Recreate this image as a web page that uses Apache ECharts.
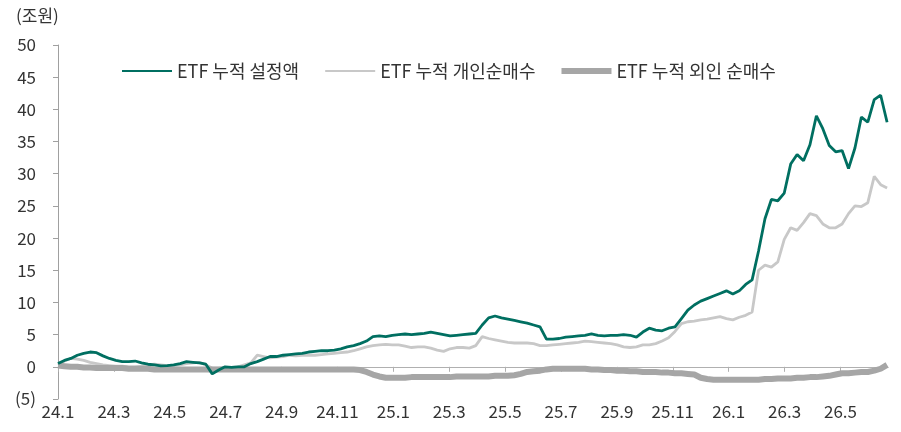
<!DOCTYPE html>
<html>
<head>
<meta charset="utf-8">
<script src="https://cdn.jsdelivr.net/npm/echarts@6/dist/echarts.min.js"></script>
<style>
  html, body { margin: 0; padding: 0; background: #fff; }
  #chart { width: 901px; height: 432px; }
</style>
</head>
<body>
<div id="chart"></div>
<script>
// 주간 데이터, 2024.1 첫 주부터 (단위: 조원)
var startYear = 24;
var seriesNames = ['ETF 누적 설정액', 'ETF 누적 개인순매수', 'ETF 누적 외인 순매수'];

var setAmount = [
  0.5, 1.0, 1.3, 1.8, 2.1, 2.3, 2.2, 1.7, 1.3, 1.0,
  0.8, 0.8, 0.9, 0.6, 0.4, 0.3, 0.15, 0.2, 0.3, 0.5,
  0.8, 0.7, 0.6, 0.4, -1.1, -0.5, 0.0, -0.1, 0.0, 0.0,
  0.5, 0.8, 1.2, 1.6, 1.6, 1.8, 1.9, 2.0, 2.1, 2.3,
  2.4, 2.5, 2.5, 2.6, 2.8, 3.1, 3.3, 3.6, 4.0, 4.7,
  4.8, 4.7, 4.9, 5.0, 5.1, 5.0, 5.1, 5.2, 5.4, 5.2,
  5.0, 4.8, 4.9, 5.0, 5.1, 5.2, 6.5, 7.6, 7.9, 7.6,
  7.4, 7.2, 7.0, 6.8, 6.5, 6.2, 4.3, 4.3, 4.4, 4.6,
  4.7, 4.8, 4.9, 5.1, 4.9, 4.8, 4.9, 4.9, 5.0, 4.9,
  4.6, 5.4, 6.0, 5.7, 5.6, 6.0, 6.2, 7.5, 8.8, 9.6,
  10.2, 10.6, 11.0, 11.4, 11.8, 11.3, 11.8, 12.8, 13.5, 18.0,
  23.0, 26.0, 25.8, 27.0, 31.5, 33.0, 32.0, 34.5, 39.0, 37.0,
  34.4, 33.4, 33.6, 30.8, 34.0, 38.8, 38.0, 41.5, 42.2, 38.0
];

var retailNet = [
  0.3, 0.9, 1.3, 1.2, 1.0, 0.7, 0.5, 0.3, 0.2, 0.1,
  0.1, 0.0, 0.0, 0.1, 0.3, 0.4, 0.3, 0.2, 0.2, 0.3,
  0.5, 0.6, 0.7, 0.3, -0.2, -0.2, -0.1, -0.1, 0.0, 0.3,
  0.6, 1.8, 1.6, 1.4, 1.5, 1.6, 1.8, 1.7, 1.8, 1.8,
  1.8, 1.9, 2.0, 2.1, 2.2, 2.3, 2.5, 2.8, 3.1, 3.3,
  3.4, 3.5, 3.4, 3.4, 3.2, 3.0, 3.1, 3.1, 2.9, 2.6,
  2.4, 2.8, 3.0, 3.0, 2.9, 3.3, 4.7, 4.4, 4.2, 4.0,
  3.8, 3.7, 3.7, 3.7, 3.6, 3.3, 3.3, 3.4, 3.5, 3.6,
  3.7, 3.8, 4.0, 3.9, 3.8, 3.7, 3.6, 3.4, 3.1, 3.0,
  3.1, 3.4, 3.4, 3.6, 4.0, 4.5, 5.5, 6.7, 7.0, 7.1,
  7.3, 7.4, 7.6, 7.8, 7.5, 7.3, 7.7, 8.0, 8.5, 15.0,
  15.8, 15.5, 16.3, 19.8, 21.6, 21.2, 22.4, 23.8, 23.5, 22.2,
  21.6, 21.6, 22.2, 23.8, 25.0, 24.9, 25.5, 29.6, 28.3, 27.8
];

var foreignNet = [
  0.2, 0.1, 0.0, 0.0, -0.1, -0.1, -0.2, -0.2, -0.2, -0.2,
  -0.2, -0.3, -0.3, -0.3, -0.3, -0.4, -0.4, -0.4, -0.4, -0.4,
  -0.4, -0.4, -0.4, -0.4, -0.4, -0.4, -0.4, -0.4, -0.4, -0.4,
  -0.4, -0.4, -0.4, -0.4, -0.4, -0.4, -0.4, -0.4, -0.4, -0.4,
  -0.4, -0.4, -0.4, -0.4, -0.4, -0.4, -0.4, -0.5, -0.8, -1.2,
  -1.5, -1.7, -1.7, -1.7, -1.7, -1.6, -1.6, -1.6, -1.6, -1.6,
  -1.6, -1.6, -1.5, -1.5, -1.5, -1.5, -1.5, -1.5, -1.4, -1.4,
  -1.4, -1.3, -1.1, -0.8, -0.7, -0.6, -0.4, -0.3, -0.3, -0.3,
  -0.3, -0.3, -0.3, -0.4, -0.4, -0.5, -0.5, -0.6, -0.6, -0.7,
  -0.7, -0.8, -0.8, -0.8, -0.9, -0.9, -1.0, -1.0, -1.1, -1.2,
  -1.7, -1.9, -2.0, -2.0, -2.0, -2.0, -2.0, -2.0, -2.0, -2.0,
  -1.9, -1.9, -1.8, -1.8, -1.8, -1.7, -1.7, -1.6, -1.6, -1.5,
  -1.4, -1.2, -1.0, -1.0, -0.9, -0.8, -0.8, -0.6, -0.3, 0.3
];

// x축 눈금: 2개월 간격 (0 = 24.1)
var tickMonths = [0, 2, 4, 6, 8, 10, 12, 14, 16, 18, 20, 22, 24, 26, 28];

function toPairs(arr) {
  // 주차 -> 월 위치
  return arr.map(function (v, i) { return [i * 7 / 30.4375, v]; });
}

function monthLabel(v) {
  var y = startYear + Math.floor(v / 12);
  var m = Math.round(v) % 12 + 1;
  return y + '.' + m;
}

var font = '"Noto Sans CJK KR", "Noto Sans", sans-serif';
var chart = echarts.init(document.getElementById('chart'));

chart.setOption({
  animation: false,
  textStyle: { fontFamily: font },
  title: {
    text: '(조원)',
    left: 11,
    top: 2,
    textStyle: { fontSize: 17, fontWeight: 'normal', color: '#333', fontFamily: font }
  },
  legend: {
    left: 117,
    top: 57,
    itemWidth: 50,
    itemHeight: 10,
    itemGap: 26,
    textStyle: { fontSize: 18, color: '#333', fontFamily: font },
    data: [
      { name: seriesNames[0], icon: 'path://M0,4 L50,4 L50,6 L0,6 Z' },
      { name: seriesNames[1], icon: 'path://M0,4 L50,4 L50,6 L0,6 Z' },
      { name: seriesNames[2], icon: 'path://M0,2 L50,2 L50,8 L0,8 Z' }
    ]
  },
  grid: { left: 58, right: 13, top: 45, bottom: 33, outerBoundsMode: 'none' },
  xAxis: [
    {
      // 0선 위의 축선과 눈금
      type: 'value',
      min: 0,
      max: 29.7,
      interval: 2,
      splitLine: { show: false },
      axisLine: { onZero: true, lineStyle: { color: '#b0b0b0', width: 1 } },
      axisTick: { length: 5, lineStyle: { color: '#b0b0b0' }, customValues: tickMonths },
      axisLabel: { show: false }
    },
    {
      // 아래쪽 날짜 라벨
      type: 'value',
      position: 'bottom',
      min: 0,
      max: 29.7,
      interval: 2,
      splitLine: { show: false },
      axisLine: { show: false, onZero: false },
      axisTick: { show: false },
      axisLabel: {
        customValues: tickMonths,
        margin: 4,
        fontSize: 17,
        color: '#333',
        fontFamily: font,
        formatter: monthLabel
      }
    }
  ],
  yAxis: {
    type: 'value',
    min: -5,
    max: 50,
    interval: 5,
    splitLine: { show: false },
    axisLine: { show: true, lineStyle: { color: '#a0a0a0' } },
    axisTick: { show: true, length: 5, lineStyle: { color: '#a0a0a0' } },
    axisLabel: {
      margin: 22,
      fontSize: 17,
      color: '#333',
      fontFamily: font,
      formatter: function (v) { return v < 0 ? '(' + (-v) + ')' : v; }
    }
  },
  series: [
    {
      name: seriesNames[0],
      type: 'line',
      data: toPairs(setAmount),
      symbol: 'none',
      z: 4,
      itemStyle: { color: '#006f61' },
      lineStyle: { color: '#006f61', width: 2.8 }
    },
    {
      name: seriesNames[1],
      type: 'line',
      data: toPairs(retailNet),
      symbol: 'none',
      z: 2,
      itemStyle: { color: '#c8c8c8' },
      lineStyle: { color: '#c8c8c8', width: 2.8 }
    },
    {
      name: seriesNames[2],
      type: 'line',
      data: toPairs(foreignNet),
      symbol: 'none',
      z: 3,
      itemStyle: { color: '#a6a6a6' },
      lineStyle: { color: '#a6a6a6', width: 6 }
    }
  ]
});
</script>
</body>
</html>
